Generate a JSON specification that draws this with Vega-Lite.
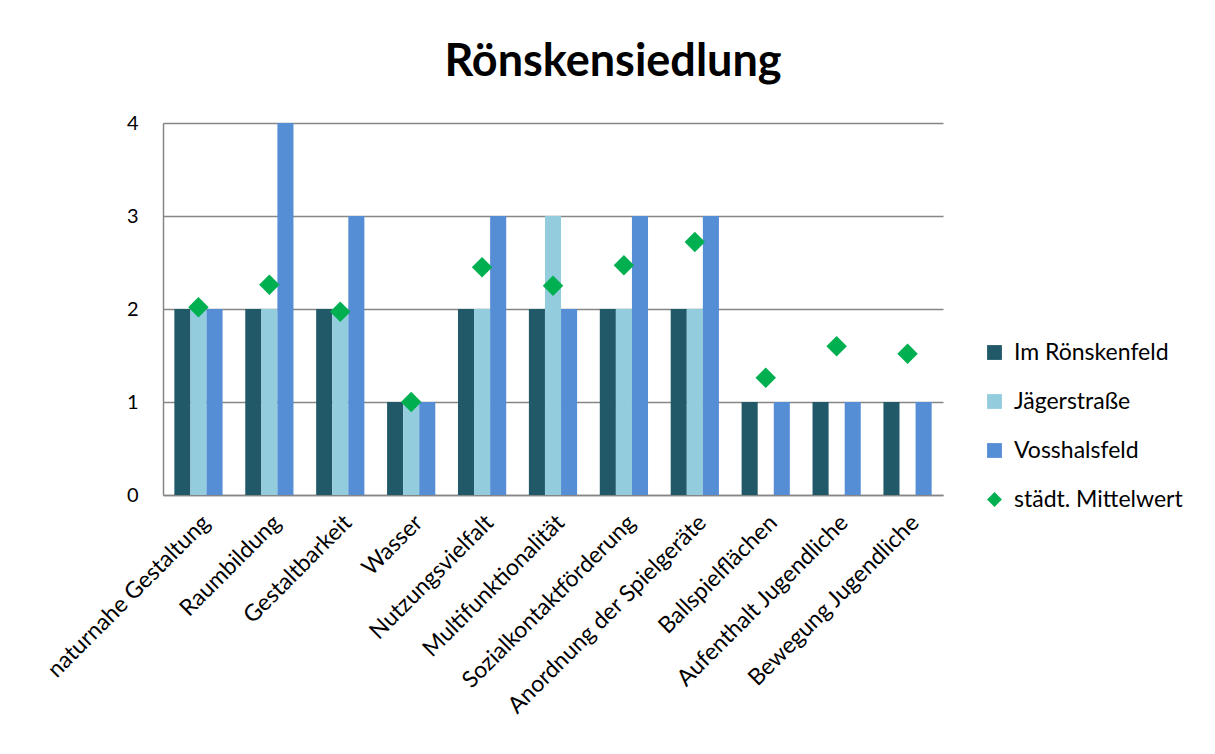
{
  "$schema": "https://vega.github.io/schema/vega-lite/v6.json",
  "width": 780,
  "height": 372,
  "autosize": {"type": "none"},
  "padding": {"left": 163, "top": 123, "right": 272, "bottom": 259},
  "background": "white",
  "title": {"text": "Rönskensiedlung", "fontSize": 45, "font": "Lato", "fontWeight": "bold", "color": "#000000", "anchor": "middle", "dx": 60, "offset": 28},
  "data": {"values": [
    {"k": "naturnahe Gestaltung", "s": "Im Rönskenfeld", "v": 2},
    {"k": "naturnahe Gestaltung", "s": "Jägerstraße", "v": 2},
    {"k": "naturnahe Gestaltung", "s": "Vosshalsfeld", "v": 2},
    {"k": "naturnahe Gestaltung", "s": "städt. Mittelwert", "v": 2.02},
    {"k": "Raumbildung", "s": "Im Rönskenfeld", "v": 2},
    {"k": "Raumbildung", "s": "Jägerstraße", "v": 2},
    {"k": "Raumbildung", "s": "Vosshalsfeld", "v": 4},
    {"k": "Raumbildung", "s": "städt. Mittelwert", "v": 2.26},
    {"k": "Gestaltbarkeit", "s": "Im Rönskenfeld", "v": 2},
    {"k": "Gestaltbarkeit", "s": "Jägerstraße", "v": 2},
    {"k": "Gestaltbarkeit", "s": "Vosshalsfeld", "v": 3},
    {"k": "Gestaltbarkeit", "s": "städt. Mittelwert", "v": 1.97},
    {"k": "Wasser", "s": "Im Rönskenfeld", "v": 1},
    {"k": "Wasser", "s": "Jägerstraße", "v": 1},
    {"k": "Wasser", "s": "Vosshalsfeld", "v": 1},
    {"k": "Wasser", "s": "städt. Mittelwert", "v": 1.0},
    {"k": "Nutzungsvielfalt", "s": "Im Rönskenfeld", "v": 2},
    {"k": "Nutzungsvielfalt", "s": "Jägerstraße", "v": 2},
    {"k": "Nutzungsvielfalt", "s": "Vosshalsfeld", "v": 3},
    {"k": "Nutzungsvielfalt", "s": "städt. Mittelwert", "v": 2.45},
    {"k": "Multifunktionalität", "s": "Im Rönskenfeld", "v": 2},
    {"k": "Multifunktionalität", "s": "Jägerstraße", "v": 3},
    {"k": "Multifunktionalität", "s": "Vosshalsfeld", "v": 2},
    {"k": "Multifunktionalität", "s": "städt. Mittelwert", "v": 2.25},
    {"k": "Sozialkontaktförderung", "s": "Im Rönskenfeld", "v": 2},
    {"k": "Sozialkontaktförderung", "s": "Jägerstraße", "v": 2},
    {"k": "Sozialkontaktförderung", "s": "Vosshalsfeld", "v": 3},
    {"k": "Sozialkontaktförderung", "s": "städt. Mittelwert", "v": 2.47},
    {"k": "Anordnung der Spielgeräte", "s": "Im Rönskenfeld", "v": 2},
    {"k": "Anordnung der Spielgeräte", "s": "Jägerstraße", "v": 2},
    {"k": "Anordnung der Spielgeräte", "s": "Vosshalsfeld", "v": 3},
    {"k": "Anordnung der Spielgeräte", "s": "städt. Mittelwert", "v": 2.72},
    {"k": "Ballspielflächen", "s": "Im Rönskenfeld", "v": 1},
    {"k": "Ballspielflächen", "s": "Jägerstraße", "v": 0},
    {"k": "Ballspielflächen", "s": "Vosshalsfeld", "v": 1},
    {"k": "Ballspielflächen", "s": "städt. Mittelwert", "v": 1.26},
    {"k": "Aufenthalt Jugendliche", "s": "Im Rönskenfeld", "v": 1},
    {"k": "Aufenthalt Jugendliche", "s": "Jägerstraße", "v": 0},
    {"k": "Aufenthalt Jugendliche", "s": "Vosshalsfeld", "v": 1},
    {"k": "Aufenthalt Jugendliche", "s": "städt. Mittelwert", "v": 1.6},
    {"k": "Bewegung Jugendliche", "s": "Im Rönskenfeld", "v": 1},
    {"k": "Bewegung Jugendliche", "s": "Jägerstraße", "v": 0},
    {"k": "Bewegung Jugendliche", "s": "Vosshalsfeld", "v": 1},
    {"k": "Bewegung Jugendliche", "s": "städt. Mittelwert", "v": 1.52}
  ]},
  "encoding": {
    "x": {
      "field": "k", "type": "nominal", "sort": null, "title": null,
      "scale": {"paddingInner": 0.32, "paddingOuter": 0.16},
      "axis": {"labelAngle": -45, "labelFontSize": 23, "labelFont": "Lato", "labelColor": "#000000", "ticks": false, "domainColor": "#868686", "domainWidth": 1.5, "labelPadding": 16, "labelLimit": 400}
    },
    "y": {
      "field": "v", "type": "quantitative", "title": null,
      "scale": {"domain": [0, 4], "nice": false},
      "axis": {"values": [0, 1, 2, 3, 4], "format": "d", "labelFontSize": 20, "labelFont": "Lato", "labelColor": "#000000", "ticks": false, "labelPadding": 25, "domainColor": "#868686", "domainWidth": 1.5, "gridColor": "#868686", "gridWidth": 1.5}
    },
    "color": {
      "field": "s", "type": "nominal", "title": null,
      "scale": {"domain": ["Im Rönskenfeld", "Jägerstraße", "Vosshalsfeld", "städt. Mittelwert"], "range": ["#215968", "#93CDDD", "#558ED5", "#00B050"]},
      "legend": {"orient": "none", "legendX": 820, "legendY": 218, "labelFontSize": 23, "labelFont": "Lato", "labelColor": "#000000", "labelLimit": 400, "symbolSize": 220, "rowPadding": 25, "labelOffset": 8, "symbolStrokeWidth": 0, "symbolOpacity": 1}
    }
  },
  "layer": [
    {
      "transform": [{"filter": "datum.s !== 'städt. Mittelwert'"}],
      "mark": {"type": "bar"},
      "encoding": {
        "xOffset": {"field": "s", "type": "nominal", "sort": ["Im Rönskenfeld", "Jägerstraße", "Vosshalsfeld"], "scale": {"paddingInner": 0, "paddingOuter": 0}}
      }
    },
    {
      "transform": [{"filter": "datum.s === 'städt. Mittelwert'"}],
      "mark": {"type": "point", "filled": true, "opacity": 1, "size": 420},
      "encoding": {
        "shape": {"field": "s", "type": "nominal", "title": null,
          "scale": {"domain": ["Im Rönskenfeld", "Jägerstraße", "Vosshalsfeld", "städt. Mittelwert"], "range": ["square", "square", "square", "diamond"]}}
      }
    }
  ],
  "config": {"view": {"stroke": null}, "axis": {"grid": true}, "axisX": {"grid": false}}
}
